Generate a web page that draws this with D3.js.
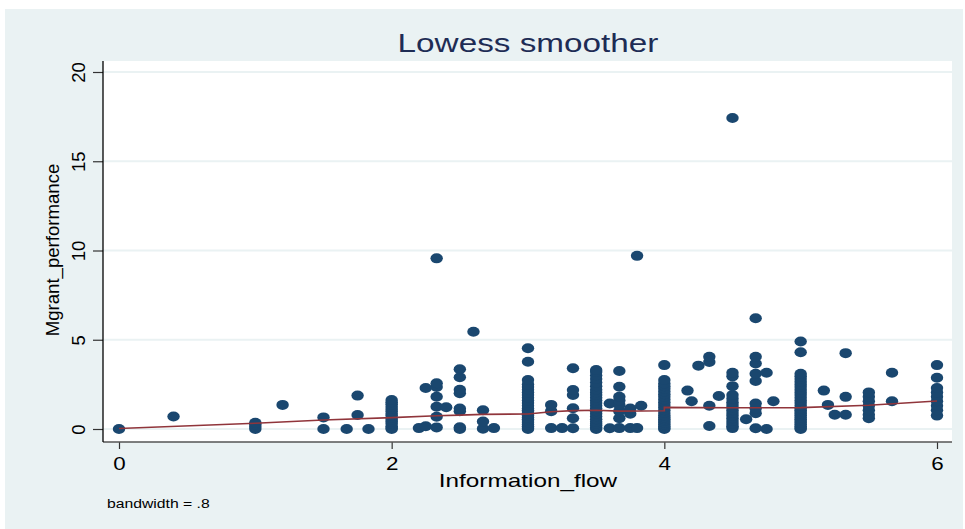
<!DOCTYPE html>
<html>
<head>
<meta charset="utf-8">
<script src="https://cdn.jsdelivr.net/npm/d3@7"></script>
<style>
  html, body { margin: 0; padding: 0; background: #ffffff; }
  svg { display: block; }
  text { font-family: "Liberation Sans", Arial, Helvetica, sans-serif; }
</style>
</head>
<body>
<svg id="chart" width="965" height="529"></svg>
<script>
// Distinct Information_flow levels and the Mgrant_performance values observed at each
const flowLevels = [0, 0.4, 1, 1.2, 1.5, 1.67, 1.75, 1.83, 2, 2.2, 2.25, 2.33, 2.4, 2.5, 2.6, 2.67, 2.75,
  3, 3.17, 3.25, 3.33, 3.5, 3.6, 3.67, 3.75, 3.8, 3.83, 4, 4.17, 4.2, 4.25, 4.33, 4.4, 4.5, 4.6, 4.67,
  4.75, 4.8, 5, 5.17, 5.2, 5.25, 5.33, 5.5, 5.67, 6];
const perfByLevel = [
  [0],
  [0.7],
  [0, 0.12, 0.25, 0.35],
  [1.35],
  [0, 0.65],
  [0],
  [0.78, 1.87],
  [0],
  [0, 0.05, 0.15, 0.3, 0.4, 0.5, 0.62, 0.75, 0.85, 1.0, 1.12, 1.25, 1.38, 1.5, 1.62],
  [0.05],
  [0.15, 2.3],
  [0.09, 0.69, 1.25, 1.81, 2.35, 2.56, 9.56],
  [1.22],
  [0, 0.1, 1.0, 1.15, 2.0, 2.2, 2.9, 3.35],
  [5.45],
  [0.02, 0.42, 1.05],
  [0.05],
  [0, 0.05, 0.15, 0.25, 0.35, 0.45, 0.55, 0.65, 0.75, 0.85, 0.95, 1.05, 1.15, 1.3, 1.45, 1.6, 1.75, 1.9,
   2.05, 2.2, 2.35, 2.5, 2.74, 3.77, 4.52],
  [0.05, 1.0, 1.35],
  [0.05],
  [0.04, 0.6, 1.16, 1.9, 2.18, 3.4],
  [0, 0.08, 0.2, 0.3, 0.4, 0.55, 0.7, 0.85, 1.0, 1.15, 1.3, 1.45, 1.6, 1.75, 1.9, 2.05, 2.2, 2.4, 2.6,
   2.8, 3.0, 3.2, 3.3],
  [0.04, 1.43],
  [0.05, 0.6, 1.0, 1.35, 1.6, 1.81, 2.37, 3.25],
  [0.05, 0.85, 1.15],
  [0.05, 9.7],
  [1.3],
  [0, 0.05, 0.15, 0.25, 0.35, 0.45, 0.55, 0.65, 0.75, 0.9, 1.05, 1.2, 1.35, 1.5, 1.65, 1.8, 1.95, 2.1,
   2.25, 2.4, 2.55, 2.75, 3.58],
  [2.15],
  [1.55],
  [3.55],
  [0.17, 1.3, 3.75, 4.05],
  [1.85],
  [0.05, 0.15, 0.3, 0.45, 0.6, 0.75, 0.9, 1.05, 1.2, 1.35, 1.5, 1.7, 1.9, 2.4, 2.95, 3.15, 17.42],
  [0.55],
  [0.04, 0.88, 1.15, 1.43, 2.69, 3.1, 3.67, 4.05, 6.2],
  [0, 3.15],
  [1.55],
  [0, 0.05, 0.15, 0.25, 0.35, 0.45, 0.55, 0.65, 0.75, 0.85, 0.95, 1.05, 1.15, 1.3, 1.45, 1.6, 1.75, 1.9,
   2.05, 2.2, 2.35, 2.5, 2.65, 2.8, 2.95, 3.1, 4.3, 4.9],
  [2.15],
  [1.35],
  [0.8],
  [0.8, 1.8, 4.25],
  [0.6, 0.8, 1.05, 1.3, 1.55, 1.8, 2.05],
  [1.55, 3.15],
  [0.75, 1.05, 1.3, 1.55, 1.8, 2.05, 2.3, 2.87, 3.58]
];

// Lowess fit (bandwidth .8), evaluated at the observed x levels
const lowessX = [0, 1, 1.5, 2, 2.33, 2.5, 2.67, 3, 3.17, 3.33, 3.5, 3.67, 4, 4, 4.5, 5, 5.5, 6];
const lowessY = [0.03, 0.32, 0.5, 0.64, 0.74, 0.78, 0.82, 0.84, 0.97, 1.03, 1.05, 1.0, 1.02, 1.21, 1.19, 1.2, 1.33, 1.57];

const xTicks = [0, 2, 4, 6];
const yTicks = [0, 5, 10, 15, 20];

const titleText = "Lowess smoother";
const xTitle = "Information_flow";
const yTitle = "Mgrant_performance";
const noteText = "bandwidth = .8";

// ---- drawing ----
const svg = d3.select("#chart");
const W = 965, H = 529;
const plot = { left: 103, right: 952, top: 61, bottom: 442 };
const sx = 1.28; // horizontal widening of upright text

const colors = {
  outer: "#eaf2f3",
  grid: "#eaf2f3",
  marker: "#1a476f",
  fit: "#90353b",
  title: "#1e2c55",
  axis: "#000000"
};

svg.append("rect").attr("x", 5).attr("y", 9).attr("width", 958).attr("height", H - 9)
  .attr("fill", colors.outer);
svg.append("rect").attr("x", plot.left).attr("y", plot.top)
  .attr("width", plot.right - plot.left).attr("height", plot.bottom - plot.top)
  .attr("fill", "#ffffff");

const x = d3.scaleLinear().domain([0, 6]).range([119, 937]);
const y = d3.scaleLinear().domain([0, 20]).range([429, 72]);

// horizontal grid lines
svg.append("g").selectAll("line").data(yTicks).join("line")
  .attr("x1", plot.left).attr("x2", plot.right)
  .attr("y1", d => y(d)).attr("y2", d => y(d))
  .attr("stroke", colors.grid).attr("stroke-width", 2.2);

// scatter points
const points = [];
flowLevels.forEach((lv, i) => perfByLevel[i].forEach(v => points.push([lv, v])));
svg.append("g").selectAll("ellipse").data(points).join("ellipse")
  .attr("cx", d => x(d[0])).attr("cy", d => y(d[1]))
  .attr("rx", 6.2).attr("ry", 5)
  .attr("fill", colors.marker);

// lowess line
const fit = lowessX.map((v, i) => [v, lowessY[i]]);
svg.append("path").datum(fit)
  .attr("d", d3.line().x(d => x(d[0])).y(d => y(d[1])))
  .attr("fill", "none").attr("stroke", colors.fit).attr("stroke-width", 1.6);

// x axis
const xAxis = svg.append("g").attr("transform", `translate(0,${plot.bottom})`)
  .call(d3.axisBottom(x).tickValues(xTicks).tickSize(7).tickPadding(8).tickFormat(d3.format("d")));
xAxis.select(".domain").remove();
xAxis.selectAll(".tick line").attr("stroke", "#333").attr("stroke-width", 1.2);
xAxis.selectAll(".tick text")
  .attr("font-size", 17.5).attr("fill", "#000")
  .attr("y", 0).attr("dy", 0)
  .attr("transform", `translate(0,28) scale(${sx},1)`);
svg.append("line").attr("x1", plot.left).attr("x2", plot.right)
  .attr("y1", plot.bottom).attr("y2", plot.bottom)
  .attr("stroke", "#555").attr("stroke-width", 1.5);

// y axis
const yAxis = svg.append("g").attr("transform", `translate(${plot.left},0)`)
  .call(d3.axisLeft(y).tickValues(yTicks).tickSize(10).tickFormat(d3.format("d")));
yAxis.select(".domain").remove();
yAxis.selectAll(".tick line").attr("stroke", "#333").attr("stroke-width", 1.2);
yAxis.selectAll(".tick text")
  .attr("font-size", 18.6).attr("fill", "#000")
  .attr("text-anchor", "middle")
  .attr("x", 0).attr("y", -18).attr("dy", 0)
  .attr("transform", "rotate(-90)");
svg.append("line").attr("x1", plot.left).attr("x2", plot.left)
  .attr("y1", plot.top).attr("y2", plot.bottom)
  .attr("stroke", colors.axis).attr("stroke-width", 1.3);

// titles and note
function wideText(tx, ty, str, size, fill, anchor) {
  svg.append("text")
    .attr("transform", `translate(${tx},${ty}) scale(${sx},1)`)
    .attr("text-anchor", anchor)
    .attr("font-size", size).attr("fill", fill)
    .text(str);
}
wideText(528, 52, titleText, 26, colors.title, "middle");
wideText(528, 487, xTitle, 19, "#000", "middle");
wideText(107, 508, noteText, 12.3, "#000", "start");

svg.append("text")
  .attr("transform", "translate(58.5,250) rotate(-90)")
  .attr("text-anchor", "middle")
  .attr("font-size", 18.6).attr("fill", "#000")
  .text(yTitle);
</script>
</body>
</html>
